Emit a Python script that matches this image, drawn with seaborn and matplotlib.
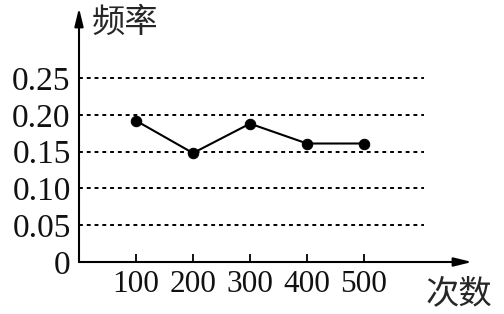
import matplotlib
matplotlib.use("Agg")
import matplotlib.pyplot as plt
import seaborn as sns
import pandas as pd

# data
trials = [100, 200, 300, 400, 500]
freq = [0.192, 0.148, 0.188, 0.161, 0.161]
y_ticks = [0, 0.05, 0.10, 0.15, 0.20, 0.25]
y_tick_labels = ["0", "0.05", "0.10", "0.15", "0.20", "0.25"]
x_ticks = [100, 200, 300, 400, 500]
x_tick_labels = ["100", "200", "300", "400", "500"]
y_label = "频率"
x_label = "次数"

sns.set_theme(style="white")
plt.rcParams['font.family'] = ['Liberation Serif', 'DejaVu Serif']

W, H = 504, 314
fig = plt.figure(figsize=(W / 100, H / 100), dpi=100)
# axes: origin at (79, 262) px; x-arrow end at 472, y-arrow top at 8
left, bottom = 79, 262
right, top = 472, 8
ax = fig.add_axes([left / W, (H - bottom) / H, (right - left) / W, (bottom - top) / H])

px_per_x = 57 / 100.0
px_per_y = 184 / 0.25
ax.set_xlim(0, (right - left) / px_per_x)
ax.set_ylim(0, (bottom - top) / px_per_y)

for s in ax.spines.values():
    s.set_visible(False)

# dotted grid lines
grid_end = (424 - left) / px_per_x
ax.hlines(y_ticks[1:], 0, grid_end, colors="black", linewidth=1.4,
          linestyles=(0, (2.0, 2.0)), zorder=1)

df = pd.DataFrame({"trials": trials, "freq": freq})
sns.lineplot(data=df, x="trials", y="freq", ax=ax, color="black",
             linewidth=1.5, marker="o", markersize=7.5,
             markerfacecolor="black", markeredgecolor="black", zorder=3)

# axes with arrows
arrow = dict(arrowstyle="-|>,head_length=0.9,head_width=0.22", color="black",
             lw=1.5, shrinkA=0, shrinkB=0)
ax.annotate("", xy=(1, 0), xytext=(0, 0), xycoords="axes fraction",
            textcoords="axes fraction", arrowprops=arrow, annotation_clip=False)
ax.annotate("", xy=(0, 1), xytext=(0, 0), xycoords="axes fraction",
            textcoords="axes fraction", arrowprops=arrow, annotation_clip=False)

ax.set_xticks(x_ticks)
ax.set_xticklabels(x_tick_labels)
ax.set_yticks(y_ticks)
ax.set_yticklabels(y_tick_labels)
ax.tick_params(axis="x", direction="in", length=6, width=1.3, color="black",
               pad=6, labelsize=22.5, bottom=True, labelcolor="#111111")
ax.tick_params(axis="y", length=0, pad=6, labelsize=24, left=True,
               labelcolor="#111111")
ax.set_xlabel("")
ax.set_ylabel("")
ax.grid(False)

fig.text(92 / W, 1 - 22 / H, y_label, fontsize=24,
         family=['Noto Sans CJK SC', 'DejaVu Sans'], ha="left", va="center")
fig.text(426 / W, 1 - 294 / H, x_label, fontsize=24,
         family=['Noto Sans CJK SC', 'DejaVu Sans'], ha="left", va="center")

fig.savefig("out.png", dpi=100, facecolor="white")
